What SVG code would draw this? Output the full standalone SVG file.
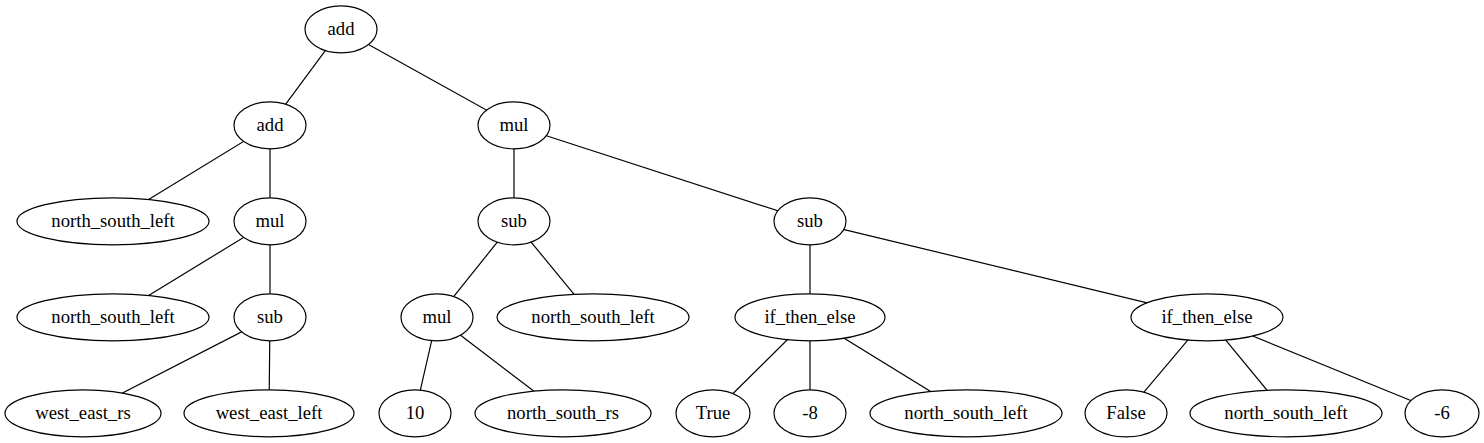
<svg xmlns="http://www.w3.org/2000/svg" width="1484" height="443" viewBox="0 0 1484 443">
<style>
.n ellipse{fill:#fff;stroke:#000;stroke-width:1.2}
.n text{font-family:"Times New Roman","Liberation Serif","DejaVu Serif",Times,serif;font-size:18.67px;text-anchor:middle;fill:#000}
#edges line{stroke:#000;stroke-width:1.2}
</style>
<rect width="1484" height="443" fill="#fff"/>
<g id="edges">
<line x1="341" y1="29.3" x2="270" y2="125.3"/>
<line x1="341" y1="29.3" x2="514" y2="125.3"/>
<line x1="270" y1="125.3" x2="113" y2="221.3"/>
<line x1="270" y1="125.3" x2="270" y2="221.3"/>
<line x1="514" y1="125.3" x2="514" y2="221.3"/>
<line x1="514" y1="125.3" x2="810" y2="221.3"/>
<line x1="270" y1="221.3" x2="113" y2="317.3"/>
<line x1="270" y1="221.3" x2="270" y2="317.3"/>
<line x1="514" y1="221.3" x2="437" y2="317.3"/>
<line x1="514" y1="221.3" x2="593" y2="317.3"/>
<line x1="810" y1="221.3" x2="810" y2="317.3"/>
<line x1="810" y1="221.3" x2="1207" y2="317.3"/>
<line x1="270" y1="317.3" x2="83" y2="413.3"/>
<line x1="270" y1="317.3" x2="269" y2="413.3"/>
<line x1="437" y1="317.3" x2="415" y2="413.3"/>
<line x1="437" y1="317.3" x2="563" y2="413.3"/>
<line x1="810" y1="317.3" x2="713" y2="413.3"/>
<line x1="810" y1="317.3" x2="810" y2="413.3"/>
<line x1="810" y1="317.3" x2="966" y2="413.3"/>
<line x1="1207" y1="317.3" x2="1126" y2="413.3"/>
<line x1="1207" y1="317.3" x2="1286" y2="413.3"/>
<line x1="1207" y1="317.3" x2="1442" y2="413.3"/>
</g>
<g id="n0" class="n"><ellipse cx="341" cy="29.3" rx="36" ry="23.5"/><text x="341" y="35">add</text></g>
<g id="n1" class="n"><ellipse cx="270" cy="125.3" rx="36" ry="23.5"/><text x="270" y="131">add</text></g>
<g id="n2" class="n"><ellipse cx="514" cy="125.3" rx="36" ry="23.5"/><text x="514" y="131">mul</text></g>
<g id="n3" class="n"><ellipse cx="113" cy="221.3" rx="96" ry="23.5"/><text x="113" y="227">north_south_left</text></g>
<g id="n4" class="n"><ellipse cx="270" cy="221.3" rx="36" ry="23.5"/><text x="270" y="227">mul</text></g>
<g id="n5" class="n"><ellipse cx="514" cy="221.3" rx="36" ry="23.5"/><text x="514" y="227">sub</text></g>
<g id="n6" class="n"><ellipse cx="810" cy="221.3" rx="36" ry="23.5"/><text x="810" y="227">sub</text></g>
<g id="n7" class="n"><ellipse cx="113" cy="317.3" rx="96" ry="23.5"/><text x="113" y="323">north_south_left</text></g>
<g id="n8" class="n"><ellipse cx="270" cy="317.3" rx="36" ry="23.5"/><text x="270" y="323">sub</text></g>
<g id="n9" class="n"><ellipse cx="437" cy="317.3" rx="36" ry="23.5"/><text x="437" y="323">mul</text></g>
<g id="n10" class="n"><ellipse cx="593" cy="317.3" rx="96" ry="23.5"/><text x="593" y="323">north_south_left</text></g>
<g id="n11" class="n"><ellipse cx="810" cy="317.3" rx="75" ry="23.5"/><text x="810" y="323">if_then_else</text></g>
<g id="n12" class="n"><ellipse cx="1207" cy="317.3" rx="76" ry="23.5"/><text x="1207" y="323">if_then_else</text></g>
<g id="n13" class="n"><ellipse cx="83" cy="413.3" rx="78" ry="23.5"/><text x="83" y="419">west_east_rs</text></g>
<g id="n14" class="n"><ellipse cx="269" cy="413.3" rx="85" ry="23.5"/><text x="269" y="419">west_east_left</text></g>
<g id="n15" class="n"><ellipse cx="415" cy="413.3" rx="36" ry="23.5"/><text x="415" y="419">10</text></g>
<g id="n16" class="n"><ellipse cx="563" cy="413.3" rx="88" ry="23.5"/><text x="563" y="419">north_south_rs</text></g>
<g id="n17" class="n"><ellipse cx="713" cy="413.3" rx="37" ry="23.5"/><text x="713" y="419">True</text></g>
<g id="n18" class="n"><ellipse cx="810" cy="413.3" rx="36" ry="23.5"/><text x="810" y="419">-8</text></g>
<g id="n19" class="n"><ellipse cx="966" cy="413.3" rx="96" ry="23.5"/><text x="966" y="419">north_south_left</text></g>
<g id="n20" class="n"><ellipse cx="1126" cy="413.3" rx="41" ry="23.5"/><text x="1126" y="419">False</text></g>
<g id="n21" class="n"><ellipse cx="1286" cy="413.3" rx="96" ry="23.5"/><text x="1286" y="419">north_south_left</text></g>
<g id="n22" class="n"><ellipse cx="1442" cy="413.3" rx="37" ry="23.5"/><text x="1442" y="419">-6</text></g>
</svg>
